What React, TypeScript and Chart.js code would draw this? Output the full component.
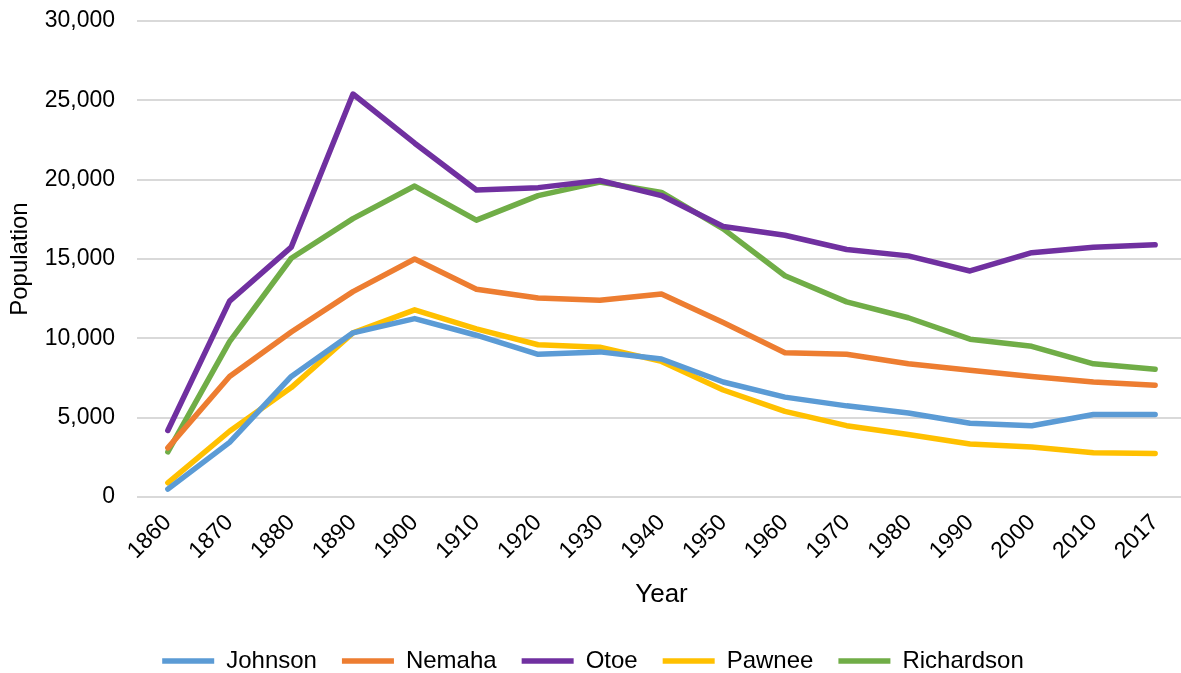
import React, { useEffect, useRef } from "react";
import { Chart, registerables } from "chart.js";

Chart.register(...registerables);

const years = ["1860", "1870", "1880", "1890", "1900", "1910", "1920", "1930", "1940", "1950", "1960", "1970", "1980", "1990", "2000", "2010", "2017"];

const johnson = [500, 3450, 7600, 10350, 11250, 10200, 9000, 9150, 8700, 7250, 6300, 5750, 5300, 4650, 4500, 5200, 5200];
const nemaha = [3100, 7600, 10400, 12950, 15000, 13100, 12550, 12400, 12800, 11000, 9100, 9000, 8400, 8000, 7600, 7250, 7050];
const otoe = [4200, 12350, 15750, 25400, 22300, 19350, 19500, 19950, 19000, 17050, 16500, 15600, 15200, 14250, 15400, 15750, 15900];
const pawnee = [900, 4150, 6900, 10350, 11800, 10600, 9600, 9450, 8550, 6750, 5400, 4500, 3950, 3350, 3150, 2800, 2750];
const richardson = [2850, 9800, 15050, 17550, 19600, 17450, 19000, 19850, 19200, 16900, 13950, 12300, 11300, 9950, 9500, 8400, 8050];

const seriesNames = ["Johnson", "Nemaha", "Otoe", "Pawnee", "Richardson"];
const seriesColors = ["#5b9bd5", "#ed7d31", "#7030a0", "#ffc000", "#70ad47"];

const FONT = "'Liberation Sans', Arial, sans-serif";

export default function App() {
  const ref = useRef<HTMLCanvasElement | null>(null);

  useEffect(() => {
    if (!ref.current) return;
    const values = [johnson, nemaha, otoe, pawnee, richardson];
    const chart = new Chart(ref.current, {
      type: "line",
      data: {
        labels: years,
        datasets: seriesNames.map((name, i) => ({
          label: name,
          data: values[i],
          borderColor: seriesColors[i],
          backgroundColor: seriesColors[i],
          borderWidth: 5.5,
          borderCapStyle: "round" as const,
          borderJoinStyle: "round" as const,
          pointRadius: 0,
          pointHoverRadius: 0,
          tension: 0,
          fill: false,
        })),
      },
      options: {
        animation: false,
        responsive: false,
        maintainAspectRatio: false,
        layout: { padding: { top: 0, right: 0, left: 0, bottom: -10 } },
        plugins: {
          legend: {
            position: "bottom",
            labels: {
              usePointStyle: true,
              pointStyle: "line",
              pointStyleWidth: 52,
              boxHeight: 24,
              padding: 25,
              color: "#000",
              font: { family: FONT, size: 24 },
            },
          },
          tooltip: { enabled: false },
        },
        scales: {
          x: {
            offset: true,
            grid: { display: false },
            border: { display: false },
            ticks: {
              color: "#000",
              font: { family: FONT, size: 23 },
              maxRotation: 45,
              minRotation: 45,
              padding: 4,
            },
            title: {
              display: true,
              text: "Year",
              color: "#000",
              font: { family: FONT, size: 26 },
              padding: { top: 10, bottom: 14 },
            },
          },
          y: {
            min: 0,
            max: 30000,
            grid: { color: "#d9d9d9", lineWidth: 2, drawTicks: false },
            border: { display: false },
            afterFit: (scale: any) => {
              scale.width = 137;
              scale.paddingTop = 21;
            },
            ticks: {
              stepSize: 5000,
              color: "#000",
              padding: 22,
              font: { family: FONT, size: 23 },
              callback: (v: any) => Number(v).toLocaleString("en-US"),
            },
            title: {
              display: true,
              text: "Population",
              color: "#000",
              font: { family: FONT, size: 24 },
              padding: { top: 6, bottom: 6 },
            },
          },
        },
      },
    });
    return () => chart.destroy();
  }, []);

  return (
    <div style={{ position: "fixed", left: 0, top: 0, width: 1181, height: 673, overflow: "hidden", background: "#fff" }}>
      <canvas ref={ref} width={1186} height={673} style={{ display: "block", width: 1186, height: 673 }} />
    </div>
  );
}
